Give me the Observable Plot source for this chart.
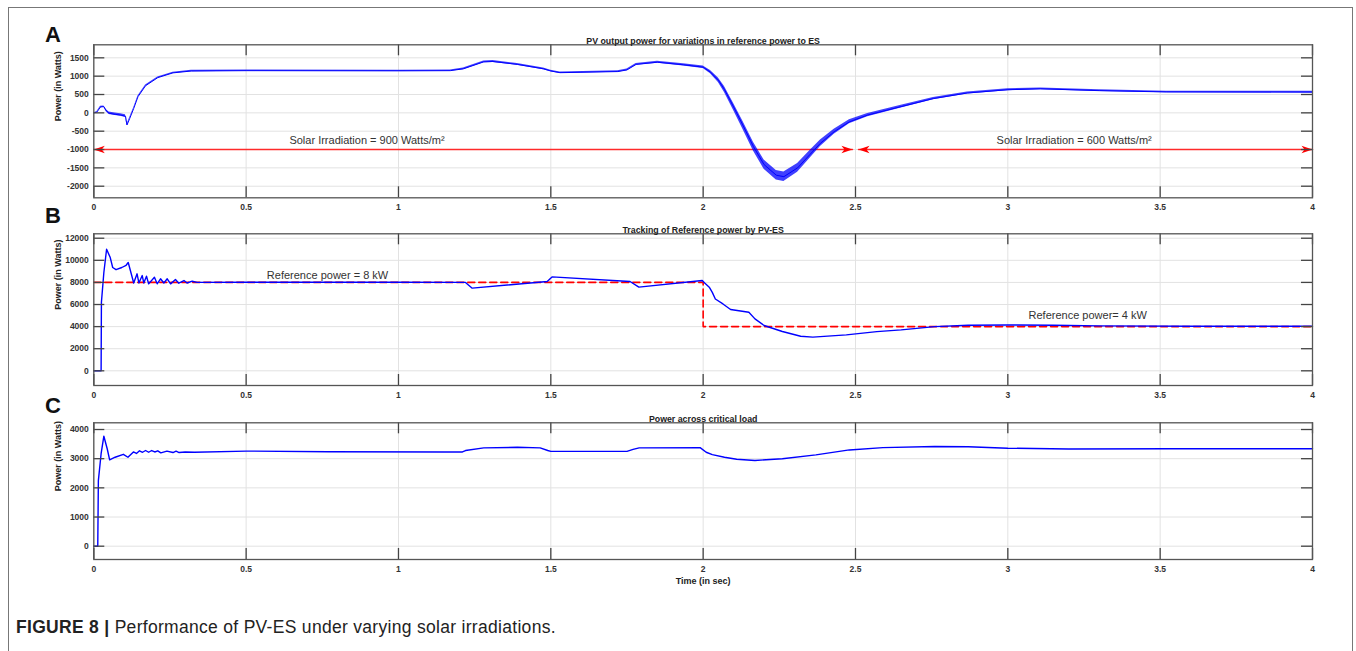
<!DOCTYPE html>
<html><head><meta charset="utf-8">
<script src="https://cdn.jsdelivr.net/npm/d3@7"></script>
<script src="https://cdn.jsdelivr.net/npm/@observablehq/plot@0.6"></script>
<style>
body{margin:0;background:#fff;overflow:hidden;font-family:"Liberation Sans",Arial,sans-serif;}
#fig{position:relative;width:1356px;height:651px;overflow:hidden;}
#frame{position:absolute;left:8px;top:7px;width:1345px;height:700px;border:1px solid #777;box-sizing:border-box;}
.panel{position:absolute;left:0;}
.letter{position:absolute;font:bold 22px/22px "Liberation Sans",Arial,sans-serif;color:#111;}
#caption{position:absolute;left:16px;top:618px;font:17.5px/18px "Liberation Sans",Arial,sans-serif;letter-spacing:0.3px;color:#222;white-space:nowrap;}
#caption b{font-weight:bold;}
</style></head><body>
<div id="fig">
<div id="frame"></div>
<div class="panel" id="pA" style="top:0px"></div>
<div class="panel" id="pB" style="top:216px"></div>
<div class="panel" id="pC" style="top:406px"></div>
<div class="letter" style="left:45px;top:24px">A</div>
<div class="letter" style="left:45px;top:205px">B</div>
<div class="letter" style="left:45px;top:395px">C</div>
<div id="caption"><b>FIGURE 8 |</b> Performance of PV-ES under varying solar irradiations.</div>
</div>
<script>
// ---------- data ----------
const xTicks = [0, 0.5, 1, 1.5, 2, 2.5, 3, 3.5, 4];
const aTicks = [-2000, -1500, -1000, -500, 0, 500, 1000, 1500];
const bTicks = [0, 2000, 4000, 6000, 8000, 10000, 12000];
const cTicks = [0, 1000, 2000, 3000, 4000];

const titleA = "PV output power for variations in reference power to ES";
const titleB = "Tracking of Reference power by PV-ES";
const titleC = "Power across critical load";
const yLabel = "Power (in Watts)";
const xLabel = "Time (in sec)";

// Panel A: PV output power (centre of ripple band) and ripple half-amplitude
const aTime = [0,0.01,0.022,0.033,0.04,0.05,0.07,0.088,0.104,0.109,0.118,0.131,0.145,0.17,0.21,0.26,0.32,0.5,1.0,1.17,1.213,1.28,1.31,1.39,1.476,1.5,1.53,1.72,1.75,1.78,1.85,1.935,2.0,2.024,2.05,2.07,2.10,2.13,2.165,2.20,2.24,2.265,2.31,2.35,2.385,2.43,2.48,2.54,2.65,2.756,2.867,3.0,3.107,3.3,3.52,4];
const aPower = [0,20,160,170,70,-10,-40,-60,-90,-330,-150,120,440,740,960,1090,1140,1150,1145,1150,1200,1390,1400,1320,1200,1140,1095,1125,1170,1320,1380,1310,1245,1110,890,635,160,-330,-920,-1410,-1700,-1740,-1500,-1140,-830,-515,-245,-60,170,390,540,630,655,605,570,565];
const aRipple = [5,10,20,20,30,35,35,35,35,20,20,20,20,20,20,20,20,18,18,18,22,25,25,25,25,22,20,20,25,25,28,30,35,45,60,80,95,110,120,125,130,130,120,105,90,70,55,45,35,30,25,25,25,22,22,22];

const irrStart = [0, 2.51];          // arrow segment ends (double-headed)
const irrEnd = [2.49, 4];
const irrLevel = -1000;
const irrText = ["Solar Irradiation = 900 Watts/m²", "Solar Irradiation = 600 Watts/m²"];
const irrTextTime = [0.642, 2.963];
const irrTextLevel = -740;

// Panel B: PV-ES tracking and reference
const bTime = [0,0.024,0.025,0.033,0.042,0.054,0.062,0.073,0.092,0.106,0.113,0.131,0.142,0.148,0.159,0.164,0.173,0.18,0.199,0.208,0.219,0.23,0.241,0.252,0.268,0.279,0.296,0.306,0.323,0.339,0.5,1.0,1.22,1.242,1.488,1.504,1.76,1.789,1.997,2.005,2.02,2.03,2.04,2.065,2.09,2.15,2.17,2.2,2.26,2.32,2.36,2.47,2.57,2.65,2.76,2.87,3.0,3.15,3.3,3.6,4.0];
const bPower = [0,0,6200,8900,11000,10250,9350,9150,9350,9550,9800,7950,8780,7950,8620,7950,8560,7870,8470,7870,8330,7950,8330,7870,8260,7930,8170,7950,8110,8000,8020,8020,8000,7480,8080,8500,8080,7570,8170,7950,7570,7100,6500,6050,5550,5300,4700,4100,3560,3130,3050,3250,3550,3700,4000,4120,4150,4120,4070,4030,4030];
const refTime = [0, 2, 2, 4];
const refPower = [8000, 8000, 4000, 4000];
const refText = ["Reference power = 8 kW", "Reference power= 4 kW"];
const refTextTime = [0.568, 3.068];
const refTextLevel = [8600, 4990];

// Panel C: critical load power
const cTime = [0,0.013,0.015,0.024,0.033,0.044,0.052,0.07,0.097,0.112,0.13,0.14,0.15,0.16,0.17,0.18,0.19,0.2,0.21,0.22,0.24,0.26,0.27,0.28,0.3,0.33,0.5,0.77,1.15,1.21,1.22,1.28,1.39,1.465,1.49,1.5,1.75,1.77,1.79,1.99,2.01,2.03,2.07,2.11,2.17,2.26,2.37,2.48,2.59,2.76,2.87,3.0,3.2,3.53,4];
const cPower = [0,0,2250,3170,3770,3340,2960,3050,3150,3050,3230,3180,3270,3220,3280,3220,3280,3230,3270,3200,3260,3210,3260,3210,3230,3220,3260,3240,3230,3230,3280,3370,3390,3370,3280,3250,3250,3320,3370,3380,3220,3140,3050,2980,2940,3000,3130,3300,3380,3420,3410,3360,3330,3340,3340];

// ---------- drawing ----------
const FONT = '"Liberation Sans", Arial, sans-serif';
const BLUE = "#0000ff", RED = "#ff0000";
const W = 1356, ML = 93.3, MR = 44, TICK = 11;

const headRight = {draw(c){ c.moveTo(0,0); c.lineTo(-11,-3.8); c.lineTo(-8,0); c.lineTo(-11,3.8); c.closePath(); }};
const headLeft  = {draw(c){ c.moveTo(0,0); c.lineTo(11,-3.8); c.lineTo(8,0); c.lineTo(11,3.8); c.closePath(); }};

function panel(el, {height, mt, mb, domainY, yTicks, title, titleDy, marks, extra = []}) {
  const ih = height - mt - mb, iw = W - ML - MR;
  const chart = Plot.plot({
    width: W, height, marginTop: mt, marginBottom: mb, marginLeft: ML, marginRight: MR,
    style: {background: "transparent", fontFamily: FONT, overflow: "visible"},
    x: {domain: [0, 4]},
    y: {domain: domainY},
    marks: [
      Plot.gridX(xTicks, {stroke: "#e2e2e2", strokeOpacity: 1}),
      Plot.gridY(yTicks, {stroke: "#e2e2e2", strokeOpacity: 1}),
      ...marks,
      Plot.ruleX(xTicks, {x: d => d, insetBottom: ih - TICK, stroke: "#444", strokeWidth: 1.3}),
      Plot.ruleX(xTicks, {x: d => d, insetTop: ih - TICK, stroke: "#444", strokeWidth: 1.3}),
      Plot.ruleY(yTicks, {y: d => d, insetRight: iw - TICK, stroke: "#444", strokeWidth: 1.3}),
      Plot.ruleY(yTicks, {y: d => d, insetLeft: iw - TICK, stroke: "#444", strokeWidth: 1.3}),
      Plot.frame({stroke: "#555", strokeWidth: 1.3}),
      Plot.axisX(xTicks, {tickSize: 0, tickPadding: 6.5, label: null, tickFormat: d => String(d),
        fontSize: 8.5, fontWeight: "bold", color: "#333"}),
      Plot.axisY(yTicks, {tickSize: 0, tickPadding: 5, label: null, tickFormat: d => String(d),
        fontSize: 8.5, fontWeight: "bold", color: "#333"}),
      Plot.text([yLabel], {text: d => d, frameAnchor: "left", rotate: -90, dx: -35.8,
        fontSize: 9, fontWeight: "bold", fill: "#222"}),
      Plot.text([title], {text: d => d, frameAnchor: "top", dy: titleDy,
        fontSize: 8.8, fontWeight: "bold", fill: "#222"}),
      ...extra
    ]
  });
  document.getElementById(el).appendChild(chart);
}

// A
const aRows = aTime.map((t, i) => ({t, p: aPower[i], r: aRipple[i]}));
const arrowRows = irrStart.flatMap((s, i) => [{seg: i, t: s, p: irrLevel}, {seg: i, t: irrEnd[i], p: irrLevel}]);
const headRows = irrStart.map((s, i) => ({s, e: irrEnd[i], p: irrLevel}));
panel("pA", {
  height: 216, mt: 44.3, mb: 18.7, domainY: [-2316, 1855], yTicks: aTicks,
  title: titleA, titleDy: -7,
  marks: [
    Plot.line(arrowRows, {x: "t", y: "p", z: "seg", stroke: "#ff2a2a", strokeWidth: 1.6}),
    Plot.dot(headRows, {x: "s", y: "p", symbol: headLeft, fill: RED, stroke: "none"}),
    Plot.dot(headRows, {x: "e", y: "p", symbol: headRight, fill: RED, stroke: "none"}),
    Plot.text(irrText, {text: d => d, x: (d, i) => irrTextTime[i], y: () => irrTextLevel, textAnchor: "start",
      fontSize: 11, fill: "#333"}),
    Plot.areaY(aRows, {x: "t", y1: d => d.p - d.r, y2: d => d.p + d.r, fill: BLUE, fillOpacity: 0.75}),
    Plot.line(aRows, {x: "t", y: "p", stroke: BLUE, strokeWidth: 1})
  ]
});

// B
const bRows = bTime.map((t, i) => ({t, p: bPower[i]}));
const refRows = refTime.map((t, i) => ({t, p: refPower[i]}));
panel("pB", {
  height: 190, mt: 17.3, mb: 21, domainY: [-1330, 12400], yTicks: bTicks,
  title: titleB, titleDy: -7,
  marks: [
    Plot.line(refRows, {x: "t", y: "p", stroke: RED, strokeWidth: 1.6, strokeDasharray: "7,4"}),
    Plot.line(bRows, {x: "t", y: "p", stroke: BLUE, strokeWidth: 1.4}),
    Plot.text(refText, {text: d => d, x: (d, i) => refTextTime[i], y: (d, i) => refTextLevel[i],
      textAnchor: "start", fontSize: 11, fill: "#333"})
  ]
});

// C
const cRows = cTime.map((t, i) => ({t, p: cPower[i]}));
panel("pC", {
  height: 190, mt: 16.3, mb: 37, domainY: [-456, 4230], yTicks: cTicks,
  title: titleC, titleDy: -7.5,
  marks: [
    Plot.line(cRows, {x: "t", y: "p", stroke: BLUE, strokeWidth: 1.4})
  ],
  extra: [
    Plot.text([xLabel], {text: d => d, frameAnchor: "bottom", dy: 24, fontSize: 9, fontWeight: "bold", fill: "#222"})
  ]
});
</script>
</body></html>
